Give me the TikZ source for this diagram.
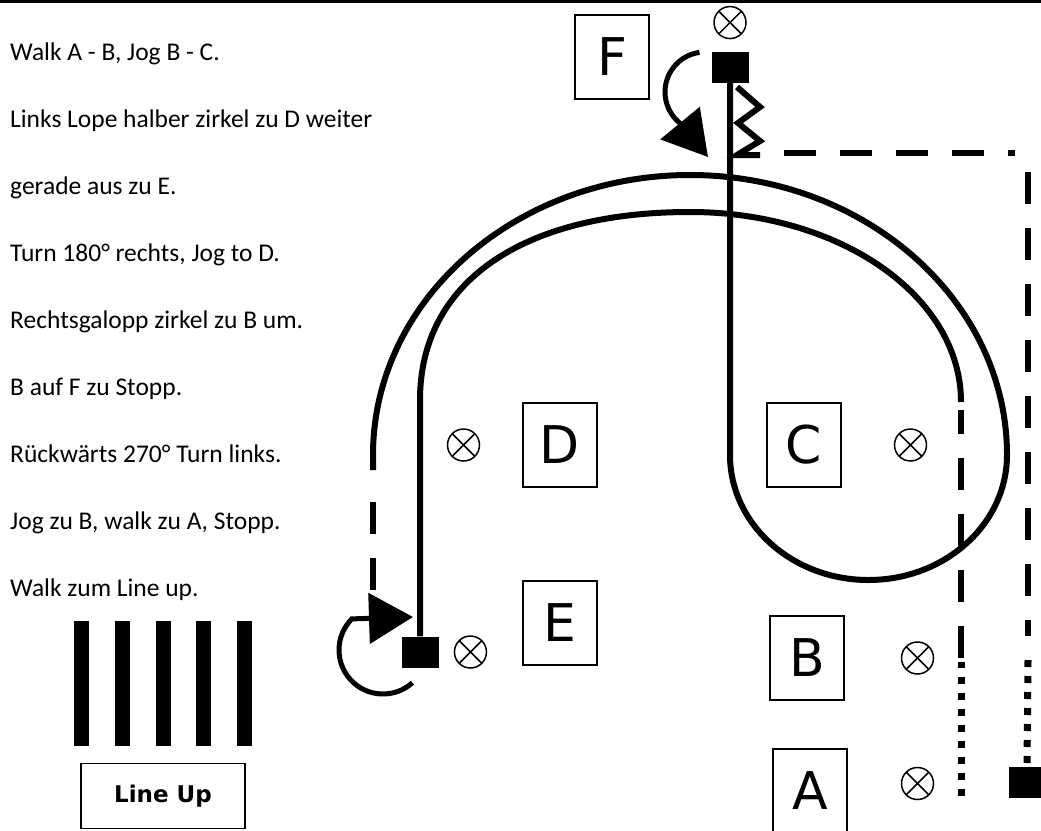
\documentclass[tikz,border=0pt]{standalone}
\usepackage{fontspec}
\setmainfont{Carlito}
\newfontfamily\dejavu{DejaVu Sans}
\usetikzlibrary{positioning, arrows.meta}

\tikzset{
  letterbox/.style={draw, line width=1.5pt, minimum width=74pt, minimum height=84pt, inner sep=0pt,
    font=\dejavu\fontsize{52}{52}\selectfont},
  pylon/.style={circle, draw, line width=1.5pt, minimum size=32pt, inner sep=0pt,
    path picture={\draw[line width=1.5pt] (path picture bounding box.north west) -- (path picture bounding box.south east)
      (path picture bounding box.north east) -- (path picture bounding box.south west);}},
  stopsq/.style={fill, minimum width=37pt, minimum height=31pt, inner sep=0pt},
  route/.style={line width=6pt},
  jog/.style={route, dash pattern=on 32pt off 24pt},
  walk/.style={line width=7pt, dash pattern=on 7pt off 9pt},
  turn/.style={line width=5pt, -{Triangle[length=44pt, width=50pt]}},
  cue/.style={anchor=base west, inner sep=0pt, font=\fontsize{25.5}{30}\selectfont}
}

\begin{document}
\begin{tikzpicture}[x=1pt, y=-1pt]
  \useasboundingbox (0,0) rectangle (1041,830);
  \draw[line width=3pt] (0,1.5) -- (1041,1.5);

  % pattern text
  \node[cue] (t1) at (10,60) {Walk A - B, Jog B - C.};
  \node[cue] (t2) at (10,127) {Links Lope halber zirkel zu D weiter};
  \node[cue] (t3) at (10,194) {gerade aus zu E.};
  \node[cue] (t4) at (10,261) {Turn 180° rechts, Jog to D.};
  \node[cue] (t5) at (10,328) {Rechtsgalopp zirkel zu B um.};
  \node[cue] (t6) at (10,395) {B auf F zu Stopp.};
  \node[cue] (t7) at (10,462) {Rückwärts 270° Turn links.};
  \node[cue] (t8) at (10,529) {Jog zu B, walk zu A, Stopp.};
  \node[cue] (t9) at (10,596) {Walk zum Line up.};

  % markers
  \node[letterbox] (F) at (612,57) {F};
  \node[letterbox] (D) at (560,445) {D};
  \node[letterbox] (C) at (804,445) {C};
  \node[letterbox] (E) at (560,623) {E};
  \node[letterbox] (B) at (807,658) {B};
  \node[letterbox] (A) at (810,791) {A};

  \node[stopsq] (Fsq) at (730,67) {};
  \node[stopsq] (Esq) at (420,652) {};
  \node[stopsq] (endsq) at (1027,782) {};

  \node[pylon, above=12pt of Fsq] (pF) {};
  \node[pylon, left=42pt of D] (pD) {};
  \node[pylon, right=52pt of C] (pC) {};
  \node[pylon, right=15pt of Esq] (pE) {};
  \node[pylon, right=56pt of B] (pB) {};
  \node[pylon, below=92pt of pB] (pA) {};

  % A - B - C, left lope to D and E
  \draw[walk] (961,796) -- (961,662);
  \draw[jog] (961,658) -- (961,410);
  \draw[route] (961,402) .. controls (961,296) and (840,212) .. (690,212)
    .. controls (521,212) and (420,283) .. (420,400) -- (Esq.north);

  % turn at E, jog to D
  \draw[turn] (383,650) ++(48:44) arc[start angle=48, end angle=225, radius=44] -- (413,617);
  \draw[jog] (373,590) -- (373,497);

  % right lope, circle round C, up to F
  \draw[route] (373,470) -- (373,455) arc[start angle=180, end angle=360, x radius=317, y radius=280]
    arc[start angle=0, end angle=180, x radius=138.5, y radius=125] -- (Fsq.south);

  % back up, turn, jog and walk out
  \draw[route] (737,87) -- (760,107) -- (738,123) -- (760,141) -- (737,155) -- (760,155);
  \draw[turn] (705,92) ++(262:40) arc[start angle=262, end angle=128, radius=40] -- (708,157);
  \draw[jog] (784,153) -- (1015,153);
  \draw[jog] (1028,172) -- (1028,636);
  \draw[walk] (1028,660) -- (endsq.north);

  % line up
  \foreach \x in {74,115,156,196,237}
    \fill (\x,621) rectangle ++(15,125);
  \node[draw, line width=1.5pt, minimum width=164pt, minimum height=65pt,
    font=\dejavu\bfseries\fontsize{23}{23}\selectfont] (lineup) at (163,796) {Line Up};
\end{tikzpicture}
\end{document}
